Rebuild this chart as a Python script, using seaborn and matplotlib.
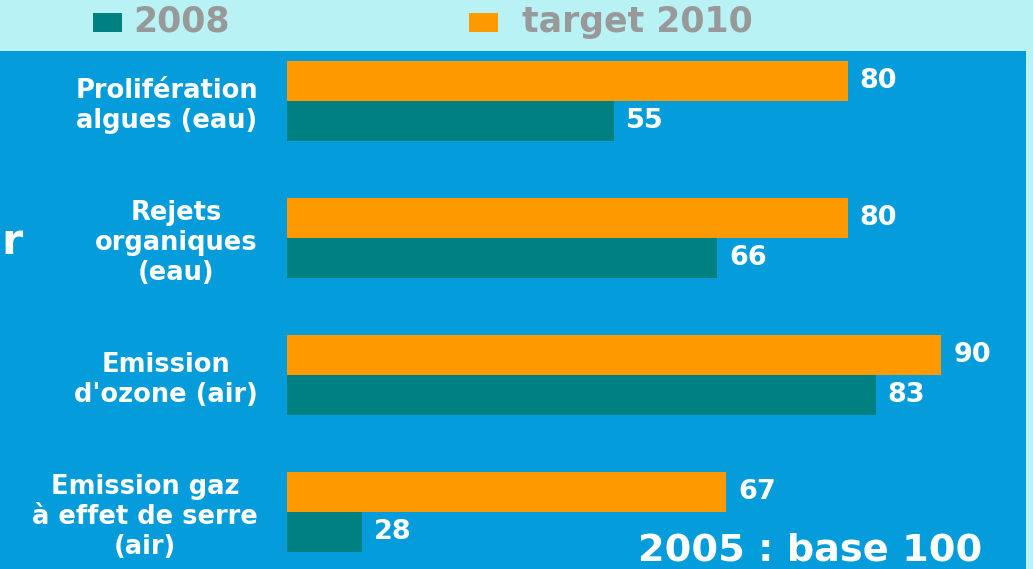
import matplotlib
matplotlib.use("Agg")
import matplotlib.pyplot as plt
from matplotlib.patches import Rectangle
import seaborn as sns
import pandas as pd

categories = ["Prolifération\nalgues (eau)",
              "Rejets\norganiques\n(eau)",
              "Emission\nd'ozone (air)",
              "Emission gaz\nà effet de serre\n(air)"]
series_names = ["target 2010", "2008"]
target_2010 = [80, 80, 90, 67]
values_2008 = [55, 66, 83, 28]

BLUE = "#049CDB"
TEAL = "#008080"
ORANGE = "#FF9900"
CYAN = "#B9F2F5"
GREY = "#999999"

sns.set_theme(style="white")
plt.rcParams['font.family'] = ['DejaVu Sans']

df = pd.DataFrame({
    "category": categories * 2,
    "series": [series_names[0]] * 4 + [series_names[1]] * 4,
    "value": target_2010 + values_2008,
})

W, H = 1033, 569
fig = plt.figure(figsize=(W / 100, H / 100), dpi=100)
fig.patch.set_facecolor(CYAN)
fig.patches.append(Rectangle((0, 0), 1026 / W, 518 / H, transform=fig.transFigure,
                             facecolor=BLUE, edgecolor="none", zorder=-5))

ax = fig.add_axes([287 / W, 0, (1026 - 287) / W, 518 / H])
ax.set_zorder(2)
ax.set_facecolor("none")
sns.barplot(data=df, x="value", y="category", hue="series", orient="h",
            order=categories, hue_order=series_names,
            palette=[ORANGE, TEAL], width=0.585, saturation=1,
            legend=False, ax=ax, errorbar=None, linewidth=0, edgecolor="none")

ax.set_xlim(20, 99.04)
ax.set_ylim(3.417, -0.366)
for c in ax.containers:
    ax.bar_label(c, fmt="%.0f", padding=8.5, color="white",
                 fontweight="bold", fontsize=19.5)

ax.set_xlabel("")
ax.set_ylabel("")
ax.set_xticks([])
ax.tick_params(axis="y", length=0, pad=21)
for lab in ax.get_yticklabels():
    lab.set_ha("right")
    lab.set_multialignment("center")
    lab.set_color("white")
    lab.set_fontweight("bold")
    lab.set_fontsize(18.5)
for s in ax.spines.values():
    s.set_visible(False)

# legend band
fig.patches.append(Rectangle((93 / W, 1 - 32 / H), 29 / W, 19 / H, transform=fig.transFigure,
                             facecolor=TEAL, edgecolor="none"))
fig.patches.append(Rectangle((469 / W, 1 - 32 / H), 29 / W, 19 / H, transform=fig.transFigure,
                             facecolor=ORANGE, edgecolor="none"))
fig.text(133 / W, 1 - 32 / H, "2008", color=GREY, fontweight="bold",
         fontsize=25, ha="left", va="baseline")
fig.text(522 / W, 1 - 32 / H, "target 2010", color=GREY, fontweight="bold",
         fontsize=25, ha="left", va="baseline")

fig.text(1 / W, 1 - 254 / H, "r", color="white", fontweight="bold",
         fontsize=31, ha="left", va="baseline")
fig.text(638 / W, 0.5 / H, "2005 : base 100", color="white", fontweight="bold",
         fontsize=27.5, ha="left", va="bottom")

fig.savefig("out.png", dpi=100, facecolor=fig.get_facecolor())
